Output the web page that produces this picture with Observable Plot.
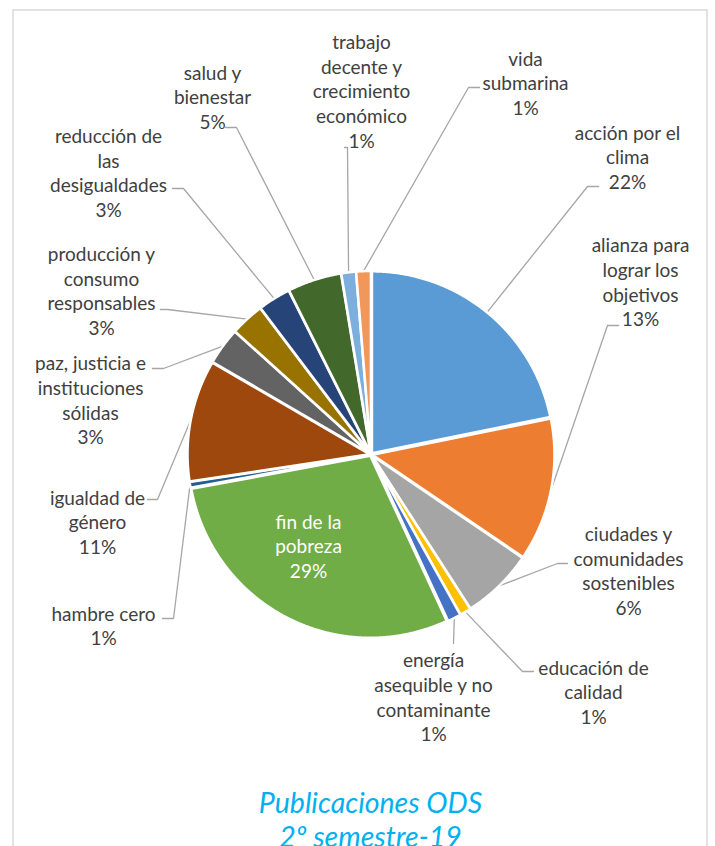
<!DOCTYPE html>
<html>
<head>
<meta charset="utf-8">
<script src="https://cdn.jsdelivr.net/npm/d3@7"></script>
<script src="https://cdn.jsdelivr.net/npm/@observablehq/plot@0.6"></script>
<style>
  html, body { margin: 0; padding: 0; background: #fff; }
  #chart svg { display: block; }
</style>
</head>
<body>
<div id="chart"></div>
<script>
// ---- data ----
const categories = [
  "acción por el clima",
  "alianza para lograr los objetivos",
  "ciudades y comunidades sostenibles",
  "educación de calidad",
  "energía asequible y no contaminante",
  "fin de la pobreza",
  "hambre cero",
  "igualdad de género",
  "paz, justicia e instituciones sólidas",
  "producción y consumo responsables",
  "reducción de las desigualdades",
  "salud y bienestar",
  "trabajo decente y crecimiento económico",
  "vida submarina"
];
const values = [21.8, 12.7, 6.4, 1.0, 1.2, 29.0, 0.5, 10.8, 3.3, 3.0, 2.9, 4.8, 1.3, 1.3];
const percentLabels = ["22%", "13%", "6%", "1%", "1%", "29%", "1%", "11%", "3%", "3%", "3%", "5%", "1%", "1%"];
const labelLines = [
  "acción por el\nclima",
  "alianza para\nlograr los\nobjetivos",
  "ciudades y\ncomunidades\nsostenibles",
  "educación de\ncalidad",
  "energía\nasequible y no\ncontaminante",
  "fin de la\npobreza",
  "hambre cero",
  "igualdad de\ngénero",
  "paz, justicia e\ninstituciones\nsólidas",
  "producción y\nconsumo\nresponsables",
  "reducción de\nlas\ndesigualdades",
  "salud y\nbienestar",
  "trabajo\ndecente y\ncrecimiento\neconómico",
  "vida\nsubmarina"
];
const colors = ["#5B9BD5", "#ED7D31", "#A5A5A5", "#FFC000", "#4472C4", "#70AD47", "#255E91",
                "#9E480E", "#636363", "#997300", "#264478", "#43682B", "#7CAFDD", "#F1975A"];
const titleLines = "Publicaciones ODS\n2º semestre-19";

// ---- layout (pixels) ----
const W = 715, H = 846;
const CX = 370.5, CY = 454, R = 182;
const labelPos = [[627,156],[640,281],[628,569.5],[593,691],[433,696],[308,545],[103,624.5],
                  [97,521],[90,399],[101,289.5],[108,171.5],[212,96],[361,90],[525,82]];
const leaderPts = [[[598,186],[587,186]], [[618,325],[607,325]], [[567,563],[557,563]],
                   [[533,671],[522,671]], [[453,643],[453,643]], null, [[162,618],[173,618]],
                   [[147,499],[157,499]], [[152,368],[163,368]], [[160,309],[167,309]],
                   [[172,188],[183,188]], [[225,127],[236,127]], [[344,147],[347,147]],
                   [[479,87],[468,87]]];
const explode = 1.5 / R;
const X = px => (px - CX) / R;
const Y = py => (CY - py) / R;

// ---- geometry from data ----
const arcs = d3.pie().sort(null).value(d => d)(values);
const slicePts = [];
const leaders = [];
arcs.forEach((a, i) => {
  const name = categories[i];
  const mid = (a.startAngle + a.endAngle) / 2;
  const ox = explode * Math.sin(mid), oy = explode * Math.cos(mid);
  slicePts.push({name, x: ox, y: oy});
  const n = Math.max(2, Math.ceil((a.endAngle - a.startAngle) / 0.005));
  for (let k = 0; k <= n; k++) {
    const t = a.startAngle + (a.endAngle - a.startAngle) * k / n;
    slicePts.push({name, x: ox + Math.sin(t), y: oy + Math.cos(t)});
  }
  if (leaderPts[i]) {
    const [p0, p1] = leaderPts[i];
    leaders.push({name, x: X(p0[0]), y: Y(p0[1])});
    leaders.push({name, x: X(p1[0]), y: Y(p1[1])});
    leaders.push({name, x: ox + Math.sin(mid), y: oy + Math.cos(mid)});
  }
});
const labels = categories.map((c, i) => ({
  name: c, text: labelLines[i] + "\n" + percentLabels[i],
  x: X(labelPos[i][0]), y: Y(labelPos[i][1]), inside: !leaderPts[i]
}));

const font = "Lato, 'Open Sans', sans-serif";
const chart = Plot.plot({
  width: W, height: H,
  marginLeft: CX - R, marginRight: W - (CX + R),
  marginTop: CY - R, marginBottom: H - (CY + R),
  x: {domain: [-1, 1], axis: null},
  y: {domain: [-1, 1], axis: null},
  color: {domain: categories, range: colors},
  style: {fontFamily: font, background: "#fff"},
  marks: [
    Plot.rect([0], {x1: X(13), x2: X(707), y1: Y(10), y2: Y(880), fill: "none", stroke: "#D9D9D9", strokeWidth: 1.5}),
    Plot.line(leaders, {x: "x", y: "y", z: "name", stroke: "#A6A6A6", strokeWidth: 1.3}),
    Plot.line(slicePts, {x: "x", y: "y", z: "name", fill: "name", stroke: "#fff", strokeWidth: 2.5,
                         curve: "linear-closed", strokeLinejoin: "round"}),
    Plot.text(labels.filter(d => !d.inside), {x: "x", y: "y", text: "text", fill: "#404040",
                         fontSize: 19, lineHeight: 1.295, fontFamily: font}),
    Plot.text(labels.filter(d => d.inside), {x: "x", y: "y", text: "text", fill: "#fff",
                         fontSize: 19, lineHeight: 1.295, fontFamily: font}),
    Plot.text([titleLines], {x: X(370), y: Y(818.5), text: d => d, fill: "#00B0F0",
                         fontSize: 28.5, fontStyle: "italic", lineHeight: 1.18, fontFamily: font})
  ]
});
document.getElementById("chart").appendChild(chart);
</script>
</body>
</html>
